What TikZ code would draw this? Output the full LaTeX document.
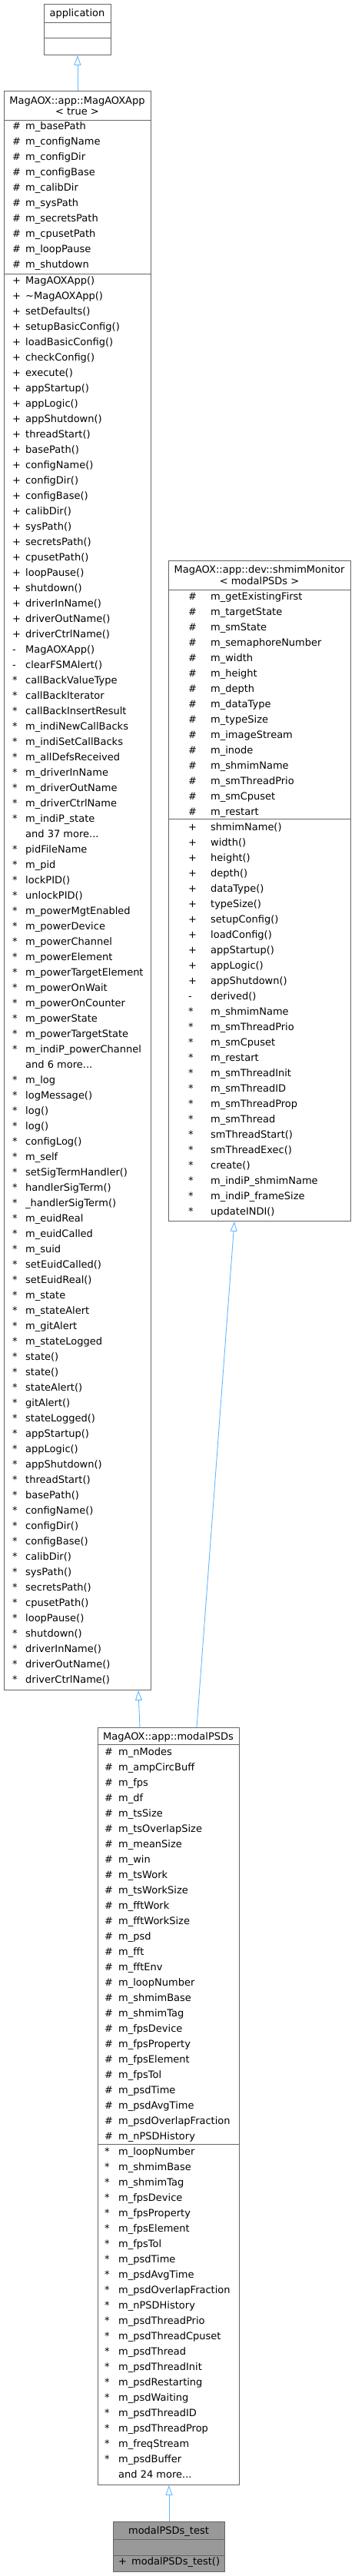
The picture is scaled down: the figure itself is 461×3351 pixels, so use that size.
\documentclass[tikz,border=0pt]{standalone}
\usepackage{fontspec}
\setmainfont{DejaVu Sans}
\usetikzlibrary{arrows.meta}
\definecolor{boxline}{HTML}{666666}
\definecolor{arrowblue}{HTML}{63B8FF}
\definecolor{leafgray}{HTML}{999999}
\newcommand{\moredots}{...}

\begin{document}
\begin{tikzpicture}[x=1pt,y=-1pt,
  classbox/.style={draw=boxline,line width=0.9pt,fill=white,anchor=north west,inner sep=0pt},
  sepline/.style={draw=boxline,line width=0.9pt},
  title/.style={font=\fontsize{13}{15}\selectfont,anchor=base,inner sep=0pt},
  member/.style={font=\fontsize{13}{15}\selectfont,anchor=base west,inner sep=0pt},
  isa/.style={draw=arrowblue,line width=0.9pt,-{Triangle[open,length=13pt,width=9pt,fill=white]}}]
\useasboundingbox (0,0) rectangle (461,3351);

% application
\node[classbox,minimum width=87pt,minimum height=66pt] (appl) at (57,5) {};
\draw[sepline] (57,29) -- (144,29);
\draw[sepline] (57,49) -- (144,49);
\node[title] (appltitle) at (100.5,21.5) {application};

% MagAOXApp< true >
\node[classbox,minimum width=191pt,minimum height=2080pt] (app) at (5,118) {};
\draw[sepline] (5,156) -- (196,156);
\draw[sepline] (5,356) -- (196,356);
\node[title] (apptitle) at (100.5,135.5) {MagAOX::app::MagAOXApp};
\node[title] (apptitle2) at (100.5,149.5) {< true >};
\foreach \t [count=\i from 0] in {m\_basePath,m\_configName,m\_configDir,m\_configBase,
    m\_calibDir,m\_sysPath,m\_secretsPath,m\_cpusetPath,m\_loopPause,m\_shutdown}
  \node[member] (appa\i) at (16,{168.5+20*\i}) {\makebox[17pt][l]{\#}\t};
\foreach \s/\t [count=\i from 0] in {+/MagAOXApp(),+/\textasciitilde MagAOXApp(),+/setDefaults(),
    +/setupBasicConfig(),+/loadBasicConfig(),+/checkConfig(),+/execute(),+/appStartup(),
    +/appLogic(),+/appShutdown(),+/threadStart(),+/basePath(),+/configName(),+/configDir(),
    +/configBase(),+/calibDir(),+/sysPath(),+/secretsPath(),+/cpusetPath(),+/loopPause(),
    +/shutdown(),+/driverInName(),+/driverOutName(),+/driverCtrlName(),
    -/MagAOXApp(),-/clearFSMAlert(),
    */callBackValueType,*/callBackIterator,*/callBackInsertResult,*/m\_indiNewCallBacks,
    */m\_indiSetCallBacks,*/m\_allDefsReceived,*/m\_driverInName,*/m\_driverOutName,
    */m\_driverCtrlName,*/m\_indiP\_state,{}/and 37 more\moredots,
    */pidFileName,*/m\_pid,*/lockPID(),*/unlockPID(),*/m\_powerMgtEnabled,*/m\_powerDevice,
    */m\_powerChannel,*/m\_powerElement,*/m\_powerTargetElement,*/m\_powerOnWait,
    */m\_powerOnCounter,*/m\_powerState,*/m\_powerTargetState,*/m\_indiP\_powerChannel,
    {}/and 6 more\moredots,
    */m\_log,*/logMessage(),*/log(),*/log(),*/configLog(),*/m\_self,*/setSigTermHandler(),
    */handlerSigTerm(),*/\_handlerSigTerm(),*/m\_euidReal,*/m\_euidCalled,*/m\_suid,
    */setEuidCalled(),*/setEuidReal(),*/m\_state,*/m\_stateAlert,*/m\_gitAlert,
    */m\_stateLogged,*/state(),*/state(),*/stateAlert(),*/gitAlert(),*/stateLogged(),
    */appStartup(),*/appLogic(),*/appShutdown(),*/threadStart(),*/basePath(),*/configName(),
    */configDir(),*/configBase(),*/calibDir(),*/sysPath(),*/secretsPath(),*/cpusetPath(),
    */loopPause(),*/shutdown(),*/driverInName(),*/driverOutName(),*/driverCtrlName()}
  \node[member] (appm\i) at (16,{369.5+20*\i}) {\makebox[17pt][l]{\s}\t};

% shmimMonitor< modalPSDs >
\node[classbox,minimum width=237pt,minimum height=859pt] (shm) at (219,729) {};
\draw[sepline] (219,767) -- (456,767);
\draw[sepline] (219,1065) -- (456,1065);
\node[title] (shmtitle) at (337.5,745.5) {MagAOX::app::dev::shmimMonitor};
\node[title] (shmtitle2) at (337.5,760.5) {< modalPSDs >};
\foreach \t [count=\i from 0] in {m\_getExistingFirst,m\_targetState,m\_smState,
    m\_semaphoreNumber,m\_width,m\_height,m\_depth,m\_dataType,m\_typeSize,m\_imageStream,
    m\_inode,m\_shmimName,m\_smThreadPrio,m\_smCpuset,m\_restart}
  \node[member] (shma\i) at (245,{780.5+20*\i}) {\makebox[29pt][l]{\#}\t};
\foreach \s/\t [count=\i from 0] in {+/shmimName(),+/width(),+/height(),+/depth(),
    +/dataType(),+/typeSize(),+/setupConfig(),+/loadConfig(),+/appStartup(),+/appLogic(),
    +/appShutdown(),-/derived(),
    */m\_shmimName,*/m\_smThreadPrio,*/m\_smCpuset,*/m\_restart,*/m\_smThreadInit,
    */m\_smThreadID,*/m\_smThreadProp,*/m\_smThread,*/smThreadStart(),*/smThreadExec(),
    */create(),*/m\_indiP\_shmimName,*/m\_indiP\_frameSize,*/updateINDI()}
  \node[member] (shmm\i) at (245,{1080.5+20*\i}) {\makebox[29pt][l]{\s}\t};

% modalPSDs
\node[classbox,minimum width=184pt,minimum height=985pt] (mpsd) at (127,2247) {};
\draw[sepline] (127,2269) -- (311,2269);
\draw[sepline] (127,2789) -- (311,2789);
\node[title] (mpsdtitle) at (219,2263.5) {MagAOX::app::modalPSDs};
\foreach \t [count=\i from 0] in {m\_nModes,m\_ampCircBuff,m\_fps,m\_df,m\_tsSize,
    m\_tsOverlapSize,m\_meanSize,m\_win,m\_tsWork,m\_tsWorkSize,m\_fftWork,m\_fftWorkSize,
    m\_psd,m\_fft,m\_fftEnv,m\_loopNumber,m\_shmimBase,m\_shmimTag,m\_fpsDevice,
    m\_fpsProperty,m\_fpsElement,m\_fpsTol,m\_psdTime,m\_psdAvgTime,m\_psdOverlapFraction,
    m\_nPSDHistory}
  \node[member] (mpsda\i) at (136,{2283.5+20*\i}) {\makebox[18pt][l]{\#}\t};
\foreach \s/\t [count=\i from 0] in {*/m\_loopNumber,*/m\_shmimBase,*/m\_shmimTag,
    */m\_fpsDevice,*/m\_fpsProperty,*/m\_fpsElement,*/m\_fpsTol,*/m\_psdTime,
    */m\_psdAvgTime,*/m\_psdOverlapFraction,*/m\_nPSDHistory,*/m\_psdThreadPrio,
    */m\_psdThreadCpuset,*/m\_psdThread,*/m\_psdThreadInit,*/m\_psdRestarting,
    */m\_psdWaiting,*/m\_psdThreadID,*/m\_psdThreadProp,*/m\_freqStream,*/m\_psdBuffer,
    {}/and 24 more\moredots}
  \node[member] (mpsdm\i) at (136,{2803.5+20*\i}) {\makebox[18pt][l]{\s}\t};

% modalPSDs_test
\node[classbox,fill=leafgray,minimum width=145pt,minimum height=65pt] (test) at (147,3280) {};
\draw[sepline] (147,3303) -- (292,3303);
\draw[sepline] (147,3324) -- (292,3324);
\node[title] (testtitle) at (219.5,3296.5) {modalPSDs\_test};
\node[member] (testm) at (154,3336.5) {\makebox[17pt][l]{+}modalPSDs\_test()};

% inheritance
\draw[isa] (app.north) -- (appl.south);
\draw[isa] ([xshift=55pt]mpsd.north west) -- ([xshift=175pt]app.south west);
\draw[isa] ([xshift=129pt]mpsd.north west) -- ([xshift=86pt]shm.south west);
\draw[isa] (test.north) -- (test.north |- mpsd.south);
\end{tikzpicture}
\end{document}
